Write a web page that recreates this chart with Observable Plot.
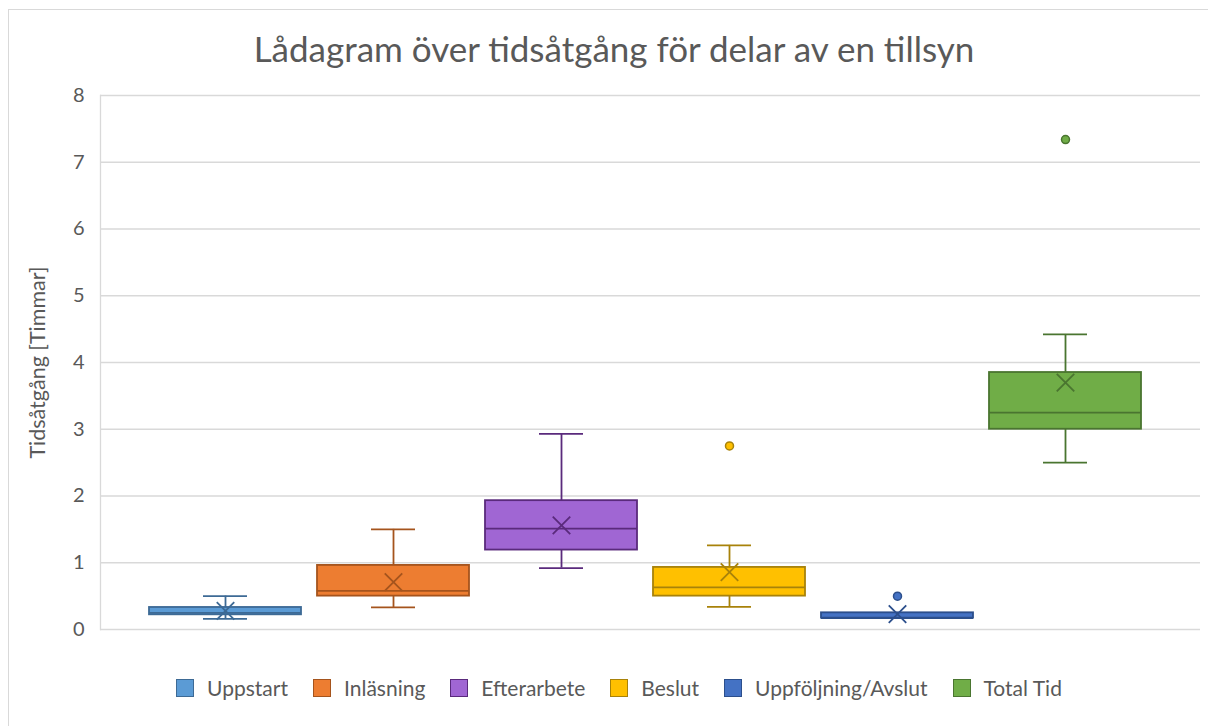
<!DOCTYPE html>
<html>
<head>
<meta charset="utf-8">
<script src="https://cdn.jsdelivr.net/npm/d3@7"></script>
<script src="https://cdn.jsdelivr.net/npm/@observablehq/plot@0.6"></script>
<style>
  html, body { margin: 0; padding: 0; background: #fff; }
  #chart { position: relative; width: 1208px; height: 726px; overflow: hidden; font-family: Lato, "Open Sans", sans-serif; }
  #border { position: absolute; left: 8px; top: 9px; width: 1300px; height: 800px; border-top: 1.5px solid #d9d9d9; border-left: 1.5px solid #d9d9d9; }
  #title { position: absolute; left: 10px; top: 23px; width: 1208px; text-align: center; font-size: 35px; color: #595959; line-height: 50px; }
  #plot { position: absolute; left: 0; top: 80px; }
  #legend { position: absolute; left: 15px; top: 672px; width: 1208px; display: flex; justify-content: center; gap: 25px; font-size: 21px; color: #595959; line-height: 32px; }
  .item { display: flex; align-items: center; gap: 13px; }
  .sw { width: 18px; height: 18px; border: 1.5px solid; box-sizing: border-box; }
</style>
</head>
<body>
<div id="chart">
  <div id="border"></div>
  <div id="title">Lådagram över tidsåtgång för delar av en tillsyn</div>
  <div id="plot"></div>
  <div id="legend"></div>
</div>
<script>
const categories = ["Uppstart", "Inläsning", "Efterarbete", "Beslut", "Uppföljning/Avslut", "Total Tid"];
const whiskerLow  = [0.16, 0.33, 0.92, 0.34, 0.17, 2.50];
const q1          = [0.22, 0.50, 1.19, 0.50, 0.17, 3.00];
const median      = [0.25, 0.58, 1.51, 0.63, 0.17, 3.25];
const q3          = [0.33, 0.96, 1.93, 0.93, 0.25, 3.85];
const whiskerHigh = [0.50, 1.50, 2.93, 1.26, 0.25, 4.42];
const mean        = [0.28, 0.71, 1.56, 0.86, 0.23, 3.70];
const outlierCat  = ["Beslut", "Uppföljning/Avslut", "Total Tid"];
const outlierVal  = [2.75, 0.50, 7.34];
const fills   = ["#5B9BD5", "#ED7D31", "#A066D3", "#FFC000", "#4472C4", "#70AD47"];
const strokes = ["#3D6A95", "#A5541D", "#5A2A7C", "#A8820A", "#2C4F8C", "#4A7530"];
const yTicks = [0, 1, 2, 3, 4, 5, 6, 7, 8];

const rows = categories.map((c, i) => ({
  cat: c, lo: whiskerLow[i], q1: q1[i], med: median[i], q3: q3[i], hi: whiskerHigh[i], mean: mean[i],
  fill: fills[i], stroke: strokes[i]
}));
const outliers = outlierCat.map((c, i) => ({cat: c, v: outlierVal[i], fill: fills[categories.indexOf(c)], stroke: strokes[categories.indexOf(c)]}));

const plot = Plot.plot({
  width: 1208,
  height: 580,
  marginLeft: 100,
  marginRight: 8,
  marginTop: 15,
  marginBottom: 31,
  style: {fontFamily: "Lato, 'Open Sans', sans-serif", fontSize: "20px", color: "#595959", background: "transparent"},
  x: {domain: categories, paddingInner: 0.0925, paddingOuter: 0.046, insetLeft: 40, insetRight: 49, axis: null},
  y: {domain: [0, 8], ticks: yTicks, label: null},
  marks: [
    Plot.ruleY(yTicks, {stroke: "#d9d9d9", strokeWidth: 1.3}),
    Plot.frame({anchor: "left", stroke: "#d9d9d9", strokeWidth: 1.3}),
    Plot.axisY({ticks: yTicks, tickSize: 0, tickPadding: 16, fontSize: 20, fill: "#595959", label: null}),
    Plot.text(["Tidsåtgång [Timmar]"], {frameAnchor: "left", textAnchor: "middle", dx: -62, rotate: -90, fontSize: 21.5, fill: "#595959"}),
    Plot.ruleX(rows, {x: "cat", y1: "lo", y2: "q1", stroke: "stroke", strokeWidth: 1.8}),
    Plot.ruleX(rows, {x: "cat", y1: "q3", y2: "hi", stroke: "stroke", strokeWidth: 1.8}),
    Plot.tickY(rows, {x: "cat", y: "lo", stroke: "stroke", strokeWidth: 1.8, insetLeft: 54, insetRight: 54}),
    Plot.tickY(rows, {x: "cat", y: "hi", stroke: "stroke", strokeWidth: 1.8, insetLeft: 54, insetRight: 54}),
    Plot.barY(rows, {x: "cat", y1: "q1", y2: "q3", fill: "fill", stroke: "stroke", strokeWidth: 1.8}),
    Plot.tickY(rows, {x: "cat", y: "med", stroke: "stroke", strokeWidth: 1.8}),
    Plot.dot(rows, {x: "cat", y: "mean", symbol: "times", r: 8, stroke: "stroke", strokeWidth: 1.8}),
    Plot.dot(outliers, {x: "cat", y: "v", r: 4, fill: "fill", stroke: "stroke", strokeWidth: 1.5})
  ]
});
document.getElementById("plot").appendChild(plot);

const legend = document.getElementById("legend");
categories.forEach((c, i) => {
  const item = document.createElement("div");
  item.className = "item";
  const sw = document.createElement("div");
  sw.className = "sw";
  sw.style.background = fills[i];
  sw.style.borderColor = strokes[i];
  const t = document.createElement("span");
  t.textContent = c;
  item.appendChild(sw);
  item.appendChild(t);
  legend.appendChild(item);
});
</script>
</body>
</html>
